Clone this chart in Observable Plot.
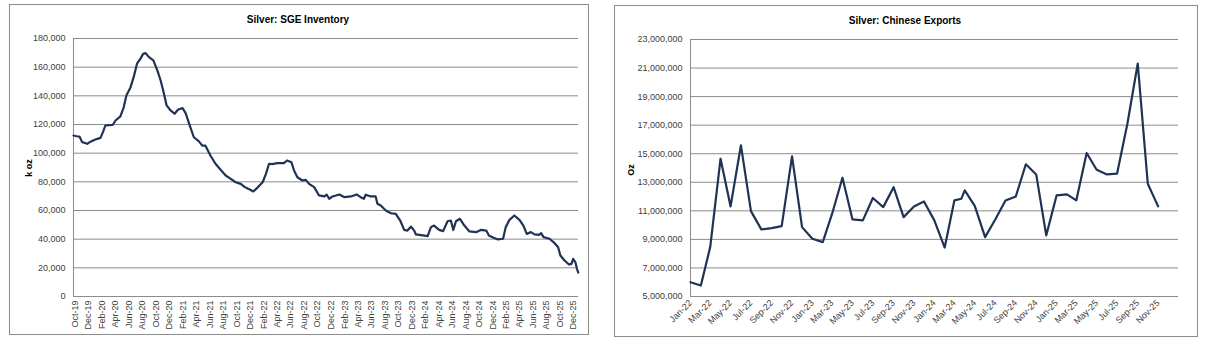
<!DOCTYPE html>
<html>
<head>
<meta charset="utf-8">
<script src="https://cdn.jsdelivr.net/npm/d3@7"></script>
<script src="https://cdn.jsdelivr.net/npm/@observablehq/plot@0.6"></script>
<style>
  html, body { margin: 0; padding: 0; background: #fff; }
  body { width: 1214px; height: 352px; position: relative; overflow: hidden; font-family: "Liberation Sans", Arial, sans-serif; }
  .box { position: absolute; box-sizing: border-box; border: 1px solid #8c8c8c; pointer-events: none; }
  .title { position: absolute; font-size: 10px; font-weight: bold; color: #000; white-space: nowrap; transform: translate(-50%, -50%); }
  .ytitle { position: absolute; font-size: 9px; font-weight: bold; color: #000; white-space: nowrap; transform: translate(-50%, -50%) rotate(-90deg); }
  .chart { position: absolute; }
</style>
</head>
<body>
<div id="c1" class="chart" style="left:9px; top:4px;"></div>
<div class="box" style="left:9px; top:4px; width:580px; height:331px;"></div>
<div class="title" style="left:298px; top:19px;">Silver: SGE Inventory</div>
<div class="ytitle" style="left:29px; top:168px;">k oz</div>

<div id="c2" class="chart" style="left:614px; top:5px;"></div>
<div class="box" style="left:614px; top:5px; width:584px; height:332px;"></div>
<div class="title" style="left:905px; top:20px;">Silver: Chinese Exports</div>
<div class="ytitle" style="left:631px; top:170px;">Oz</div>

<script>
// ---- Left chart: SGE inventory (k oz) ----
const invDates = [
  "2019-09-24","2019-10-08","2019-10-21","2019-11-02","2019-11-12","2019-11-25","2019-12-10","2019-12-24",
  "2020-01-10","2020-01-24","2020-02-05","2020-02-15","2020-03-01","2020-03-20","2020-04-01","2020-04-23",
  "2020-05-08","2020-05-20","2020-06-07","2020-06-22","2020-07-07","2020-07-22","2020-08-04","2020-08-15",
  "2020-08-30","2020-09-19","2020-10-07","2020-10-22","2020-11-06","2020-11-18","2020-12-06","2020-12-24",
  "2021-01-09","2021-01-29","2021-02-12","2021-02-28","2021-03-21","2021-04-12","2021-04-28","2021-05-12",
  "2021-06-04","2021-06-27","2021-07-20","2021-08-12","2021-09-04","2021-09-26","2021-10-19","2021-11-05",
  "2021-11-19","2021-12-01","2021-12-15","2022-01-03","2022-01-15","2022-01-26","2022-02-10","2022-02-24",
  "2022-03-10","2022-04-02","2022-05-02","2022-05-17","2022-06-05","2022-06-17","2022-07-02","2022-07-25",
  "2022-08-09","2022-08-24","2022-09-16","2022-10-08","2022-10-31","2022-11-12","2022-11-23","2022-12-08",
  "2023-01-08","2023-01-31","2023-03-01","2023-03-27","2023-04-14","2023-04-29","2023-05-07","2023-05-30",
  "2023-06-21","2023-06-29","2023-07-14","2023-08-06","2023-08-29","2023-09-20","2023-10-10","2023-10-28",
  "2023-11-12","2023-11-28","2023-12-12","2023-12-20","2024-01-20","2024-02-11","2024-02-26","2024-03-11",
  "2024-04-03","2024-04-21","2024-05-11","2024-05-26","2024-06-06","2024-06-18","2024-07-06","2024-07-26",
  "2024-08-18","2024-09-17","2024-10-10","2024-11-02","2024-11-14","2024-12-05","2024-12-25","2025-01-17",
  "2025-01-29","2025-02-15","2025-03-09","2025-04-01","2025-04-19","2025-05-04","2025-05-23","2025-06-08",
  "2025-06-28","2025-07-08","2025-07-19","2025-08-15","2025-09-07","2025-09-23","2025-10-03","2025-10-22",
  "2025-11-11","2025-11-22","2025-11-30","2025-12-10","2025-12-17","2025-12-23"
];
const invValues = [
  112300,111800,111600,107700,107300,106500,108000,109000,
  110000,110700,115000,119300,119600,119800,122800,125600,
  132000,140200,145600,153000,162400,165800,169300,169800,
  167000,164700,157700,150700,141400,133300,129800,127500,
  130500,131400,127900,120500,111100,108400,105300,105300,
  98400,92600,88400,84400,82100,79700,78600,76500,
  75300,74500,73300,76000,78000,79700,85600,92600,
  92400,93000,93000,94900,93700,87900,83200,80900,
  81400,78600,76300,70500,69800,71000,68200,69800,
  71200,69300,69800,71200,69300,68200,71000,69800,
  69800,64700,63500,60000,58100,57700,53000,46500,
  46000,48800,46000,43300,42600,42100,48400,49500,
  46500,45600,52500,53000,46500,52500,54200,49500,
  45400,44900,46500,46000,42600,41000,39800,40300,
  48400,53500,56500,53500,49500,43700,44900,43300,
  43000,44200,41400,40300,37200,34400,28600,25100,
  22300,22800,26300,23900,19300,16700
];
const invYTicks = [0,20000,40000,60000,80000,100000,120000,140000,160000,180000];
const invXTickStart = "2019-10-01", invXTickEnd = "2026-01-01";
const invDomain = ["2019-09-24", "2025-12-24"];

// ---- Right chart: Chinese exports (Oz) ----
const expDates = [
  "2022-01-01","2022-02-01","2022-03-01","2022-04-01","2022-05-01","2022-06-01","2022-07-01","2022-08-01",
  "2022-09-01","2022-10-01","2022-11-01","2022-12-01","2023-01-01","2023-02-01","2023-03-01","2023-04-01",
  "2023-05-01","2023-06-01","2023-07-01","2023-08-01","2023-09-01","2023-10-01","2023-11-01","2023-12-01",
  "2024-01-01","2024-02-01","2024-03-01","2024-03-22","2024-04-01","2024-05-01","2024-06-01","2024-07-01",
  "2024-08-01","2024-09-01","2024-10-01","2024-11-01","2024-12-01","2025-01-01","2025-02-01","2025-03-01",
  "2025-04-01","2025-05-01","2025-06-01","2025-07-01","2025-08-01","2025-09-01","2025-10-01","2025-11-01"
];
const expValues = [
  6000000,5770000,8460000,14650000,11310000,15590000,10980000,9700000,
  9790000,9930000,14820000,9860000,9050000,8810000,10800000,13320000,
  10400000,10330000,11900000,11260000,12660000,10560000,11310000,11660000,
  10330000,8430000,11730000,11850000,12430000,11350000,9160000,10380000,
  11730000,12010000,14260000,13550000,9280000,12080000,12150000,11730000,
  15050000,13880000,13550000,13600000,17100000,21320000,12900000,11310000
];
const expYTicks = [5000000,7000000,9000000,11000000,13000000,15000000,17000000,19000000,21000000,23000000];
const expXTickStart = "2022-01-01", expXTickEnd = "2025-12-01";
const expDomain = ["2022-01-01", "2026-01-01"];

const lineColor = "#1f3354";
const gridColor = "#8c8c8c";
const textColor = "#404040";
const fmt = d3.format(",");
const monFmt = d3.utcFormat("%b-%y");
const P = s => new Date(s + "T00:00:00Z");

const inv = invDates.map((d, i) => ({date: P(d), value: invValues[i]}));
const exp = expDates.map((d, i) => ({date: P(d), value: expValues[i]}));

const invTicks = d3.utcMonth.range(P(invXTickStart), P(invXTickEnd), 2);
const expTicks = d3.utcMonth.range(P(expXTickStart), P(expXTickEnd), 2);

const commonStyle = {fontFamily: "'Liberation Sans', Arial, sans-serif", fontSize: "9px", color: textColor, background: "transparent", overflow: "visible"};

const c1 = Plot.plot({
  width: 579, height: 330,
  marginLeft: 64, marginRight: 10, marginTop: 34, marginBottom: 38,
  style: commonStyle,
  x: {type: "utc", domain: invDomain.map(P)},
  y: {domain: [0, 180000]},
  marks: [
    Plot.ruleY(invYTicks, {stroke: gridColor, strokeWidth: 1}),
    Plot.ruleX([P(invDomain[0])], {stroke: gridColor, strokeWidth: 1}),
    Plot.axisY({ticks: invYTicks, tickFormat: fmt, tickSize: 0, tickPadding: 8, label: null, fill: textColor}),
    Plot.axisX({ticks: invTicks, tickFormat: monFmt, tickRotate: -90, tickSize: 0, tickPadding: 4, label: null, fill: textColor}),
    Plot.line(inv, {x: "date", y: "value", stroke: lineColor, strokeWidth: 2.2, strokeLinejoin: "round"})
  ]
});
document.getElementById("c1").appendChild(c1);

const c2 = Plot.plot({
  width: 583, height: 331,
  marginLeft: 76, marginRight: 19, marginTop: 34, marginBottom: 40,
  style: commonStyle,
  x: {type: "utc", domain: expDomain.map(P)},
  y: {domain: [5000000, 23000000]},
  marks: [
    Plot.ruleY(expYTicks, {stroke: gridColor, strokeWidth: 1}),
    Plot.ruleX([P(expDomain[0])], {stroke: gridColor, strokeWidth: 1}),
    Plot.axisY({ticks: expYTicks, tickFormat: fmt, tickSize: 0, tickPadding: 8, label: null, fill: textColor}),
    Plot.axisX({ticks: expTicks, tickFormat: monFmt, tickRotate: -45, tickSize: 0, tickPadding: 5, label: null, fill: textColor}),
    Plot.line(exp, {x: "date", y: "value", stroke: lineColor, strokeWidth: 2.2, strokeLinejoin: "round"})
  ]
});
document.getElementById("c2").appendChild(c2);
</script>
</body>
</html>
